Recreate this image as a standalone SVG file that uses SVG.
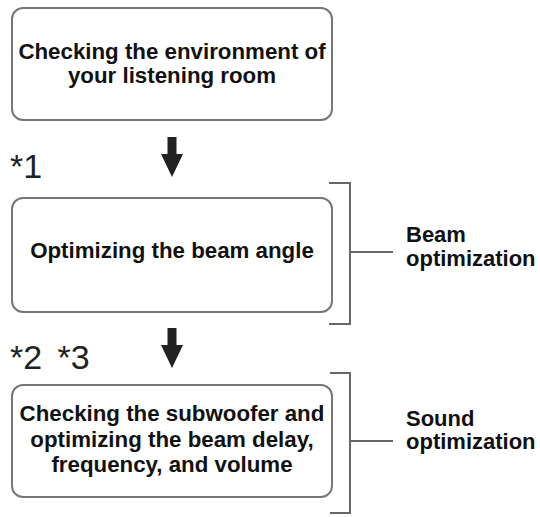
<svg xmlns="http://www.w3.org/2000/svg" width="540" height="517" viewBox="0 0 540 517">
<style>
.box{fill:#fff;stroke:#777;stroke-width:2}
.t{font-family:"Liberation Sans",Arial,sans-serif;font-weight:bold;font-size:22.3px;fill:#111;text-anchor:middle}
.lab{font-family:"Liberation Sans",Arial,sans-serif;font-weight:bold;font-size:22px;fill:#111}
.note{font-family:"Liberation Sans",Arial,sans-serif;font-size:34px;fill:#222}
.br{fill:none;stroke:#666;stroke-width:2}
.arr{fill:#222}
</style>
<rect width="540" height="517" fill="#fff"/>
<g id="node-1">
<rect class="box" x="12" y="8" width="320" height="112" rx="11"/>
<text class="t" x="172" y="59">Checking the environment of</text>
<text class="t" x="172" y="82.5">your listening room</text>
</g>
<g id="node-2">
<rect class="box" x="12" y="198" width="320" height="114" rx="11"/>
<text class="t" x="172" y="258">Optimizing the beam angle</text>
</g>
<g id="node-3">
<rect class="box" x="12" y="385" width="320" height="112" rx="11"/>
<text class="t" x="172" y="421">Checking the subwoofer and</text>
<text class="t" x="172" y="446.5">optimizing the beam delay,</text>
<text class="t" x="172" y="472">frequency, and volume</text>
</g>
<g id="connectors">
<path class="arr" d="M167.5 137 H176.5 V154 H183 L172 177 L161 154 H167.5 Z"/>
<path class="arr" d="M167.5 328 H176.5 V345 H183 L172 368 L161 345 H167.5 Z"/>
</g>
<g id="notes">
<text class="note" x="10" y="178">*1</text>
<text class="note" x="10" y="369" word-spacing="6">*2 *3</text>
</g>
<g id="group-beam">
<path class="br" d="M329 183 H350 V324 H329 M350 252 H393"/>
<text class="lab" x="406" y="242">Beam</text>
<text class="lab" x="406" y="265.5">optimization</text>
</g>
<g id="group-sound">
<path class="br" d="M330 373 H350 V513 H330 M350 441 H393"/>
<text class="lab" x="406" y="425.5">Sound</text>
<text class="lab" x="406" y="449">optimization</text>
</g>
</svg>
